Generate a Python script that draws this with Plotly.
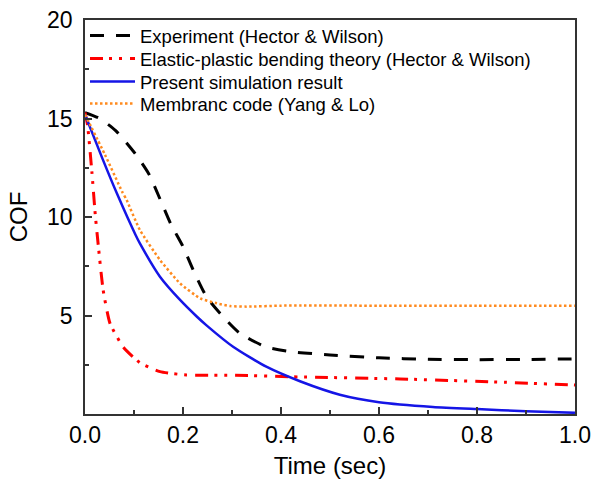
import plotly.graph_objects as go

# Experiment (Hector & Wilson)
exp_t = [0, 0.03, 0.062, 0.103, 0.13, 0.155, 0.175, 0.2, 0.221, 0.248, 0.276, 0.316, 0.37, 0.425, 0.5, 0.6, 0.7, 0.8, 0.9, 1.0]
exp_v = [15.3, 15.0, 14.4, 13.2, 12.2, 10.8, 9.65, 8.5, 7.3, 5.95, 5.1, 4.1, 3.4, 3.15, 3.0, 2.85, 2.78, 2.76, 2.77, 2.8]

# Elastic-plastic bending theory (Hector & Wilson)
ep_t = [0, 0.005, 0.014, 0.021, 0.0245, 0.037, 0.051, 0.078, 0.112, 0.153, 0.207, 0.3, 0.44, 0.643, 0.847, 1.0]
ep_v = [15.3, 14.7, 12.3, 10.1, 9.2, 6.3, 4.6, 3.4, 2.6, 2.15, 1.98, 1.97, 1.88, 1.78, 1.62, 1.47]

# Present simulation result
sim_t = [0, 0.035, 0.065, 0.103, 0.112, 0.153, 0.194, 0.228, 0.248, 0.303, 0.37, 0.44, 0.52, 0.6, 0.71, 0.8, 0.9, 1.0]
sim_v = [15.2, 13.0, 11.2, 9.1, 8.66, 6.97, 5.79, 4.95, 4.5, 3.4, 2.4, 1.65, 0.98, 0.6, 0.36, 0.25, 0.14, 0.06]

# Membranc code (Yang & Lo)
mem_t = [0, 0.041, 0.0755, 0.085, 0.112, 0.153, 0.194, 0.235, 0.269, 0.296, 0.33, 0.4, 0.6, 0.8, 1.0]
mem_v = [15.2, 13.15, 11.3, 10.86, 9.34, 7.82, 6.63, 5.87, 5.62, 5.48, 5.45, 5.5, 5.5, 5.5, 5.5]

names = ["Experiment (Hector & Wilson)",
         "Elastic-plastic bending theory (Hector & Wilson)",
         "Present simulation result",
         "Membranc code (Yang & Lo)"]

FONT = "Arial, Liberation Sans, sans-serif"

fig = go.Figure()
fig.add_trace(go.Scatter(x=exp_t, y=exp_v, mode="lines", name=names[0], legend="legend",
                         line=dict(color="black", width=3, dash="14px,12px", shape="spline", smoothing=0.6)))
fig.add_trace(go.Scatter(x=ep_t, y=ep_v, mode="lines", name=names[1], legend="legend2",
                         line=dict(color="#ff0000", width=3, dash="13px,6px,3px,7px,3px,8px", shape="spline", smoothing=0.5)))
fig.add_trace(go.Scatter(x=sim_t, y=sim_v, mode="lines", name=names[2], legend="legend3",
                         line=dict(color="#1515e6", width=2.5, shape="spline", smoothing=0.6)))
fig.add_trace(go.Scatter(x=mem_t, y=mem_v, mode="lines", name=names[3], legend="legend4",
                         line=dict(color="#ff8a1e", width=2.5, dash="2.5px,2.5px", shape="spline", smoothing=0.5)))

def leg(y):
    return dict(x=0.0, y=y, xanchor="left", yanchor="middle",
                bgcolor="rgba(0,0,0,0)", borderwidth=0,
                font=dict(size=18.5, family=FONT), itemwidth=45)

fig.update_layout(
    width=602, height=479,
    margin=dict(l=85, r=27, t=20, b=65),
    paper_bgcolor="white", plot_bgcolor="white",
    font=dict(family=FONT, color="black"),
    showlegend=True,
    legend=leg(0.9594), legend2=leg(0.901), legend3=leg(0.8426), legend4=leg(0.7868),
)

fig.update_xaxes(
    range=[0, 1], tickvals=[0, 0.2, 0.4, 0.6, 0.8, 1.0], tickformat=".1f",
    ticks="inside", ticklen=7, tickwidth=1.5, tickcolor="#333",
    minor=dict(dtick=0.1, ticks="inside", ticklen=4, tickwidth=1.5, tickcolor="#333"),
    showline=True, linecolor="#333", linewidth=1.5, mirror=True,
    showgrid=False, zeroline=False, automargin=False,
    tickfont=dict(size=23, family=FONT),
    title=dict(text="Time (sec)", font=dict(size=24, family=FONT), standoff=10),
)
fig.update_yaxes(
    range=[0, 20], tickvals=[5, 10, 15, 20],
    ticks="inside", ticklen=7, tickwidth=1.5, tickcolor="#333",
    minor=dict(tickvals=[2.5, 7.5, 12.5, 17.5], ticks="inside", ticklen=4, tickwidth=1.5, tickcolor="#333"),
    showline=True, linecolor="#333", linewidth=1.5, mirror=True,
    showgrid=False, zeroline=False, automargin=False,
    ticklabelstandoff=6,
    tickfont=dict(size=23, family=FONT),
    title=dict(text="COF", font=dict(size=24, family=FONT), standoff=13),
)

fig.write_html("out.html", config={"displayModeBar": False},
               post_script="document.body.style.margin='0';")
